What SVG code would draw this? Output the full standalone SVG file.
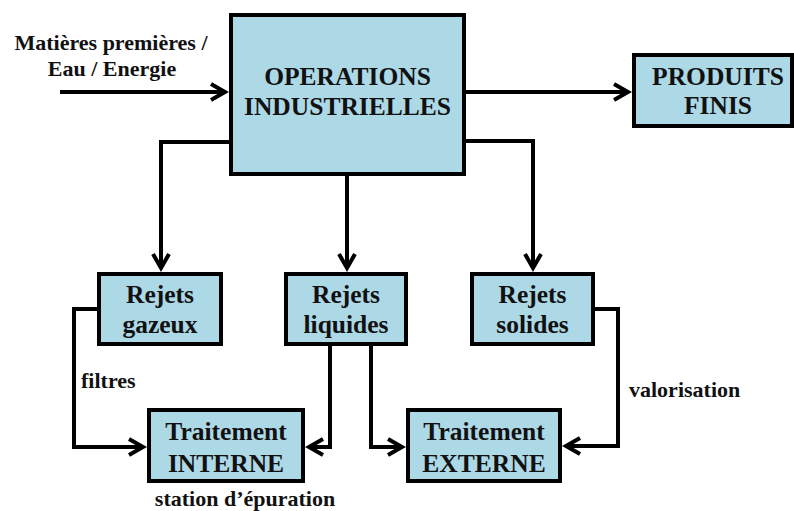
<svg xmlns="http://www.w3.org/2000/svg" width="794" height="511" viewBox="0 0 794 511">
<style>
.box{fill:#ADD8E6;stroke:#000;stroke-width:4}
.t{font-family:'Liberation Serif','Times New Roman',serif;font-weight:bold;font-size:25.5px;fill:#111;text-anchor:middle}
.l{font-family:'Liberation Serif','Times New Roman',serif;font-weight:bold;font-size:22px;fill:#111}
.c{fill:none;stroke:#000;stroke-width:4}
</style>
<defs>
<marker id="arr" markerUnits="userSpaceOnUse" viewBox="-20 -12 24 24" markerWidth="24" markerHeight="24" refX="0" refY="0" orient="auto">
<path d="M-14,-8 L0,0 L-14,8" fill="none" stroke="#000" stroke-width="4"/>
</marker>
</defs>
<rect width="794" height="511" fill="#fff"/>
<g id="connectors">
<path class="c" d="M60,92 H225" marker-end="url(#arr)"/>
<path class="c" d="M466,92 H628" marker-end="url(#arr)"/>
<path class="c" d="M229,142 H161 V268" marker-end="url(#arr)"/>
<path class="c" d="M347,176 V268" marker-end="url(#arr)"/>
<path class="c" d="M466,141 H533 V268" marker-end="url(#arr)"/>
<path class="c" d="M97,309 H74 V447 H143" marker-end="url(#arr)"/>
<path class="c" d="M330,346 V447 H309" marker-end="url(#arr)"/>
<path class="c" d="M371,346 V447 H402" marker-end="url(#arr)"/>
<path class="c" d="M595,309 H618 V446 H566" marker-end="url(#arr)"/>
</g>
<g id="labels">
<text class="l" x="111" y="50" text-anchor="middle">Matières premières /</text>
<text class="l" x="112" y="76" text-anchor="middle">Eau / Energie</text>
<text class="l" x="81" y="388">filtres</text>
<text class="l" x="629" y="397">valorisation</text>
<text class="l" x="245" y="506" text-anchor="middle">station d’épuration</text>
</g>
<g id="operations">
<rect class="box" x="231" y="15" width="233" height="159"/>
<text class="t" x="347.5" y="85">OPERATIONS</text>
<text class="t" x="347.5" y="115">INDUSTRIELLES</text>
</g>
<g id="produits">
<rect class="box" x="634" y="55" width="158" height="71"/>
<text class="t" x="718" y="85">PRODUITS</text>
<text class="t" x="718" y="114">FINIS</text>
</g>
<g id="gazeux">
<rect class="box" x="99" y="274" width="122" height="70"/>
<text class="t" x="160" y="303">Rejets</text>
<text class="t" x="160" y="333">gazeux</text>
</g>
<g id="liquides">
<rect class="box" x="286" y="274" width="120" height="70"/>
<text class="t" x="346" y="303">Rejets</text>
<text class="t" x="346" y="333">liquides</text>
</g>
<g id="solides">
<rect class="box" x="472" y="274" width="121" height="70"/>
<text class="t" x="532.5" y="303">Rejets</text>
<text class="t" x="532.5" y="333">solides</text>
</g>
<g id="interne">
<rect class="box" x="149" y="410" width="154" height="71"/>
<text class="t" x="226" y="440">Traitement</text>
<text class="t" x="226" y="472">INTERNE</text>
</g>
<g id="externe">
<rect class="box" x="408" y="410" width="152" height="71"/>
<text class="t" x="484" y="440">Traitement</text>
<text class="t" x="484" y="472">EXTERNE</text>
</g>
</svg>
